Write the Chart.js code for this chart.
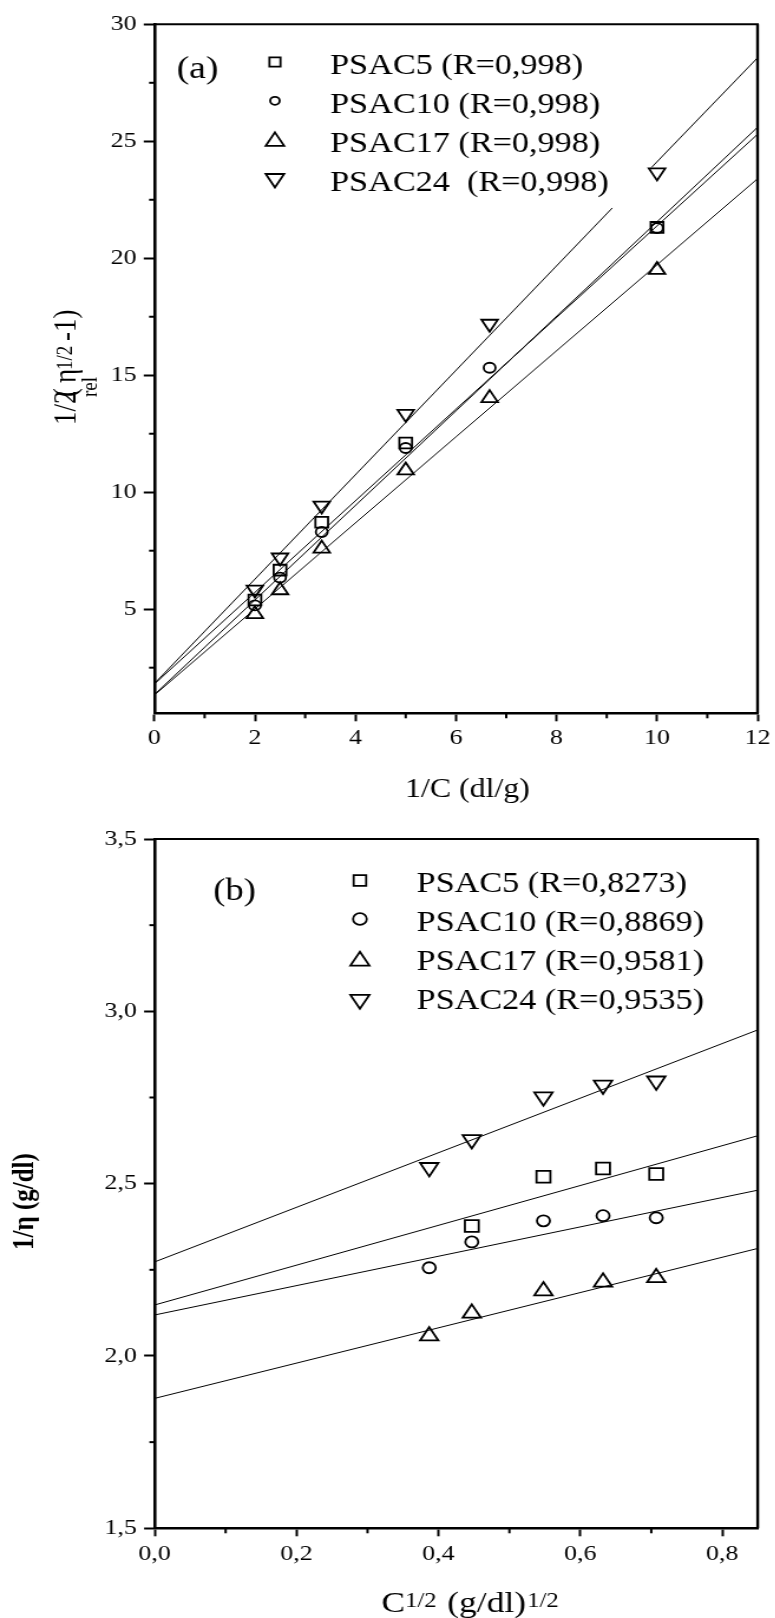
<!DOCTYPE html>
<html>
<head>
<meta charset="utf-8">
<script src="https://cdn.jsdelivr.net/npm/chart.js@4.4.0/dist/chart.umd.min.js"></script>
<style>
html,body{margin:0;padding:0;background:#fff;overflow:hidden}
#wrap{position:relative;width:775px;height:1618px;overflow:hidden}
canvas{position:absolute;left:0;transform-origin:0 0;transform:scaleX(1.18)}
#ca{top:0}
#cb{top:810px}
</style>
</head>
<body>
<div id="wrap">
<canvas id="ca" width="657" height="810"></canvas>
<canvas id="cb" width="657" height="808"></canvas>
</div>
<script>
// ---------------- Panel (a) data ----------------
const aLegendLabels = ['PSAC5 (R=0,998)', 'PSAC10 (R=0,998)', 'PSAC17 (R=0,998)', 'PSAC24  (R=0,998)'];
const aX5  = [2, 2.5, 3.33, 5, 10];
const aY5  = [5.39, 6.67, 8.72, 12.10, 21.32];
const aX10 = [2, 2.5, 3.33, 5, 6.67, 10];
const aY10 = [5.16, 6.35, 8.30, 11.89, 15.32, 21.29];
const aX17 = [2, 2.5, 3.33, 5, 6.67, 10];
const aY17 = [4.79, 5.81, 7.59, 10.93, 14.02, 19.50];
const aX24 = [2, 2.5, 3.33, 5, 6.67, 10];
const aY24 = [5.84, 7.21, 9.43, 13.35, 17.20, 23.67];
// fitted lines (end points)
const aFitX   = [0, 12];
const aFit5   = [1.80, 25.30];
const aFit10  = [1.35, 25.60];
const aFit17  = [1.33, 23.40];
const aFit24X = [0, 9.11, 9.5, 9.89, 12];
const aFit24Y = [1.82, 22.15, null, 23.88, 28.57];
const aXTicks      = [0, 1, 2, 3, 4, 5, 6, 7, 8, 9, 10, 11, 12];
const aXTickLabels = ['0', '', '2', '', '4', '', '6', '', '8', '', '10', '', '12'];
const aYTicks      = [2.5, 5, 7.5, 10, 12.5, 15, 17.5, 20, 22.5, 25, 27.5, 30];
const aYTickLabels = ['', '5', '', '10', '', '15', '', '20', '', '25', '', '30'];

// ---------------- Panel (b) data ----------------
const bLegendLabels = ['PSAC5 (R=0,8273)', 'PSAC10 (R=0,8869)', 'PSAC17 (R=0,9581)', 'PSAC24 (R=0,9535)'];
const bX5  = [0.447, 0.548, 0.632, 0.707];
const bY5  = [2.377, 2.520, 2.544, 2.528];
const bX   = [0.387, 0.447, 0.548, 0.632, 0.707];
const bY10 = [2.256, 2.331, 2.392, 2.407, 2.401];
const bY17 = [2.058, 2.124, 2.189, 2.214, 2.227];
const bY24 = [2.547, 2.628, 2.752, 2.786, 2.798];
const bFitX  = [0, 0.85];
const bFit5  = [2.148, 2.639];
const bFit10 = [2.119, 2.481];
const bFit17 = [1.877, 2.312];
const bFit24 = [2.273, 2.946];
const bXTicks      = [0, 0.1, 0.2, 0.3, 0.4, 0.5, 0.6, 0.7, 0.8];
const bXTickLabels = ['0,0', '', '0,2', '', '0,4', '', '0,6', '', '0,8'];
const bYTicks      = [1.5, 1.75, 2.0, 2.25, 2.5, 2.75, 3.0, 3.25, 3.5];
const bYTickLabels = ['1,5', '', '2,0', '', '2,5', '', '3,0', '', '3,5'];

// ---------------- helpers ----------------
const FONT = "'Liberation Serif', 'Times New Roman', serif";
const pts = (xs, ys) => xs.map((x, i) => ({ x: x, y: ys[i] }));

function markerDs(label, xs, ys, style, r, rot) {
  return {
    label: label, data: pts(xs, ys), showLine: false,
    pointStyle: style, pointRadius: r, pointHoverRadius: r, pointRotation: rot || 0,
    pointBorderColor: '#000', pointBackgroundColor: 'rgba(0,0,0,0)', pointBorderWidth: 1.8,
    borderColor: '#000', backgroundColor: 'rgba(0,0,0,0)'
  };
}
function fitDs(xs, ys) {
  return {
    label: 'fit', data: pts(xs, ys), showLine: true, pointRadius: 0, pointHoverRadius: 0,
    borderColor: '#000', borderWidth: 1, spanGaps: false, fill: false, tension: 0
  };
}
function drawMarker(ctx, style, x, y, r) {
  ctx.beginPath();
  if (style === 'rect') {
    const h = r * Math.SQRT1_2;
    ctx.rect(x - h, y - h, 2 * h, 2 * h);
  } else if (style === 'circle') {
    ctx.arc(x, y, r, 0, Math.PI * 2);
  } else {
    const off = style === 'down' ? Math.PI : 0;
    for (let k = 0; k < 3; k++) {
      const a = off + k * 2 * Math.PI / 3;
      const px = x + Math.sin(a) * r, py = y - Math.cos(a) * r;
      if (k === 0) ctx.moveTo(px, py); else ctx.lineTo(px, py);
    }
  }
  ctx.closePath();
  ctx.stroke();
}
function fontStr(size, bold) { return (bold ? 'bold ' : '') + size + 'px ' + FONT; }

function axis(min, max, tickVals, tickLabels, pos, fitSize, tickLen, pad) {
  return {
    type: 'linear', position: pos, min: min, max: max,
    afterBuildTicks: ax => { ax.ticks = tickVals.map(v => ({ value: v })); },
    afterFit: s => { if (pos === 'left') s.width = fitSize; else s.height = fitSize; },
    ticks: {
      autoSkip: false, maxRotation: 0, minRotation: 0, padding: pad, color: '#000',
      font: { family: FONT, size: 22 },
      callback: (v, i) => tickLabels[i]
    },
    grid: {
      drawOnChartArea: false, drawTicks: true, tickLength: tickLen, tickWidth: 2,
      tickColor: c => (tickLabels[c.index] ? '#000' : 'rgba(0,0,0,0)')
    },
    border: { display: true, color: '#000', width: 2.6 },
    title: { display: false }
  };
}

// draws a run of text pieces; 'at' = absolute offset, otherwise flows after previous piece (+dx)
function drawRuns(ctx, T) {
  let pos = 0;
  const placed = T.runs.map(R => {
    ctx.font = fontStr(R.s, T.bold);
    const w = ctx.measureText(R.t).width;
    const start = (R.at !== undefined) ? R.at : pos + (R.dx || 0);
    pos = start + w;
    return { R: R, start: start };
  });
  const shift = T.center ? -pos / 2 : 0;
  placed.forEach(p => {
    ctx.font = fontStr(p.R.s, T.bold);
    ctx.fillText(p.R.t, p.start + shift, p.R.dy || 0);
  });
}

function decor(cfg) {
  return {
    id: 'decor_' + cfg.id,
    afterDraw(chart) {
      const ctx = chart.ctx, a = chart.chartArea;
      const xs = chart.scales.x, ys = chart.scales.y;
      ctx.save();
      ctx.strokeStyle = '#000';
      // top + right frame
      ctx.lineWidth = 2;
      ctx.beginPath(); ctx.moveTo(a.left, a.top); ctx.lineTo(a.right + 1, a.top); ctx.stroke();
      ctx.lineWidth = 2.4;
      ctx.beginPath(); ctx.moveTo(a.right, a.top); ctx.lineTo(a.right, a.bottom); ctx.stroke();
      // minor ticks
      ctx.lineWidth = 2;
      cfg.xTicks.forEach((v, i) => {
        if (cfg.xLabels[i]) return;
        const p = xs.getPixelForValue(v);
        ctx.beginPath(); ctx.moveTo(p, a.bottom); ctx.lineTo(p, a.bottom + 5); ctx.stroke();
      });
      cfg.yTicks.forEach((v, i) => {
        if (cfg.yLabels[i]) return;
        const p = ys.getPixelForValue(v);
        ctx.beginPath(); ctx.moveTo(a.left, p); ctx.lineTo(a.left - 4.5, p); ctx.stroke();
      });
      // legend
      ctx.fillStyle = '#000';
      ctx.textAlign = 'left';
      ctx.textBaseline = 'alphabetic';
      ctx.lineWidth = 1.8;
      cfg.legend.forEach((L, i) => {
        drawMarker(ctx, L.style, cfg.legMX, L.my, L.r);
        ctx.font = fontStr(cfg.legSize);
        ctx.fillText(cfg.legendLabels[i], cfg.legTX, L.ty);
      });
      // panel label
      ctx.font = fontStr(cfg.panelSize);
      ctx.fillText(cfg.panel, cfg.panelX, cfg.panelY);
      // axis titles
      cfg.titles.forEach(T => {
        ctx.save();
        ctx.translate(T.x, T.y);
        if (T.rot) ctx.rotate(-Math.PI / 2);
        drawRuns(ctx, T);
        ctx.restore();
      });
      ctx.restore();
    }
  };
}

function makeChart(id, datasets, xAx, yAx, padding, plugin) {
  return new Chart(document.getElementById(id), {
    type: 'scatter',
    data: { datasets: datasets },
    options: {
      responsive: false, animation: false, devicePixelRatio: 1, events: [],
      layout: { padding: padding },
      plugins: { legend: { display: false }, tooltip: { enabled: false } },
      scales: { x: xAx, y: yAx }
    },
    plugins: [plugin]
  });
}

// ---------------- Panel (a) ----------------
makeChart('ca',
  [
    fitDs(aFitX, aFit5), fitDs(aFitX, aFit10), fitDs(aFitX, aFit17), fitDs(aFit24X, aFit24Y),
    markerDs('PSAC5', aX5, aY5, 'rect', 7.6),
    markerDs('PSAC10', aX10, aY10, 'circle', 5),
    markerDs('PSAC17', aX17, aY17, 'triangle', 8),
    markerDs('PSAC24', aX24, aY24, 'triangle', 8, 180)
  ],
  axis(0, 12, aXTicks, aXTickLabels, 'bottom', 96.7, 8, 4),
  axis(0.55, 30, aYTicks, aYTickLabels, 'left', 130.8, 9, 6),
  { top: 24.3, right: 14.9, left: 0, bottom: 0 },
  decor({
    id: 'a', xTicks: aXTicks, xLabels: aXTickLabels, yTicks: aYTicks, yLabels: aYTickLabels,
    legendLabels: aLegendLabels, legMX: 233, legTX: 279.7, legSize: 29,
    legend: [
      { style: 'rect', r: 6.6, my: 62, ty: 74 },
      { style: 'circle', r: 4, my: 100.8, ty: 112.7 },
      { style: 'triangle', r: 9, my: 141.4, ty: 151.7 },
      { style: 'down', r: 9, my: 178.5, ty: 190.7 }
    ],
    panel: '(a)', panelSize: 32, panelX: 149.7, panelY: 78.3,
    titles: [
      { x: 396, y: 797, rot: false, center: true, runs: [{ t: '1/C (dl/g)', s: 27 }] },
      { x: 64.4, y: 425, rot: true, runs: [
        { t: '1/2', s: 27, at: 0 },
        { t: '(', s: 27, at: 28 },
        { t: '\u03B7', s: 27, at: 42 },
        { t: 'rel', s: 19, at: 28, dy: 17.8 },
        { t: '1/2', s: 19, at: 55, dy: -3.4 },
        { t: '-1)', s: 27, at: 84 }
      ] }
    ]
  })
);

// ---------------- Panel (b) ----------------
makeChart('cb',
  [
    fitDs(bFitX, bFit5), fitDs(bFitX, bFit10), fitDs(bFitX, bFit17), fitDs(bFitX, bFit24),
    markerDs('PSAC5', bX5, bY5, 'rect', 8.3),
    markerDs('PSAC10', bX, bY10, 'circle', 5.5),
    markerDs('PSAC17', bX, bY17, 'triangle', 8.9),
    markerDs('PSAC24', bX, bY24, 'triangle', 8.9, 180)
  ],
  axis(0, 0.85, bXTicks, bXTickLabels, 'bottom', 89.7, 8, 5),
  axis(1.5, 3.5, bYTicks, bYTickLabels, 'left', 131.1, 9, 6),
  { top: 29, right: 14.9, left: 0, bottom: 0 },
  decor({
    id: 'b', xTicks: bXTicks, xLabels: bXTickLabels, yTicks: bYTicks, yLabels: bYTickLabels,
    legendLabels: bLegendLabels, legMX: 305, legTX: 353, legSize: 29,
    legend: [
      { style: 'rect', r: 7.5, my: 70.5, ty: 81.7 },
      { style: 'circle', r: 5.8, my: 109, ty: 120.7 },
      { style: 'triangle', r: 9.3, my: 151, ty: 160 },
      { style: 'down', r: 9.3, my: 189.5, ty: 199.3 }
    ],
    panel: '(b)', panelSize: 31, panelX: 180.8, panelY: 90,
    titles: [
      { x: 398.4, y: 801.7, rot: false, center: true, runs: [
        { t: 'C', s: 30 },
        { t: '1/2', s: 21, dx: 0, dy: -5 },
        { t: '(g/dl)', s: 30, dx: 9 },
        { t: '1/2', s: 21, dx: 1, dy: -5 }
      ] },
      { x: 28, y: 440, rot: true, bold: true, runs: [{ t: '1/\u03B7 (g/dl)', s: 25 }] }
    ]
  })
);
</script>
</body>
</html>
